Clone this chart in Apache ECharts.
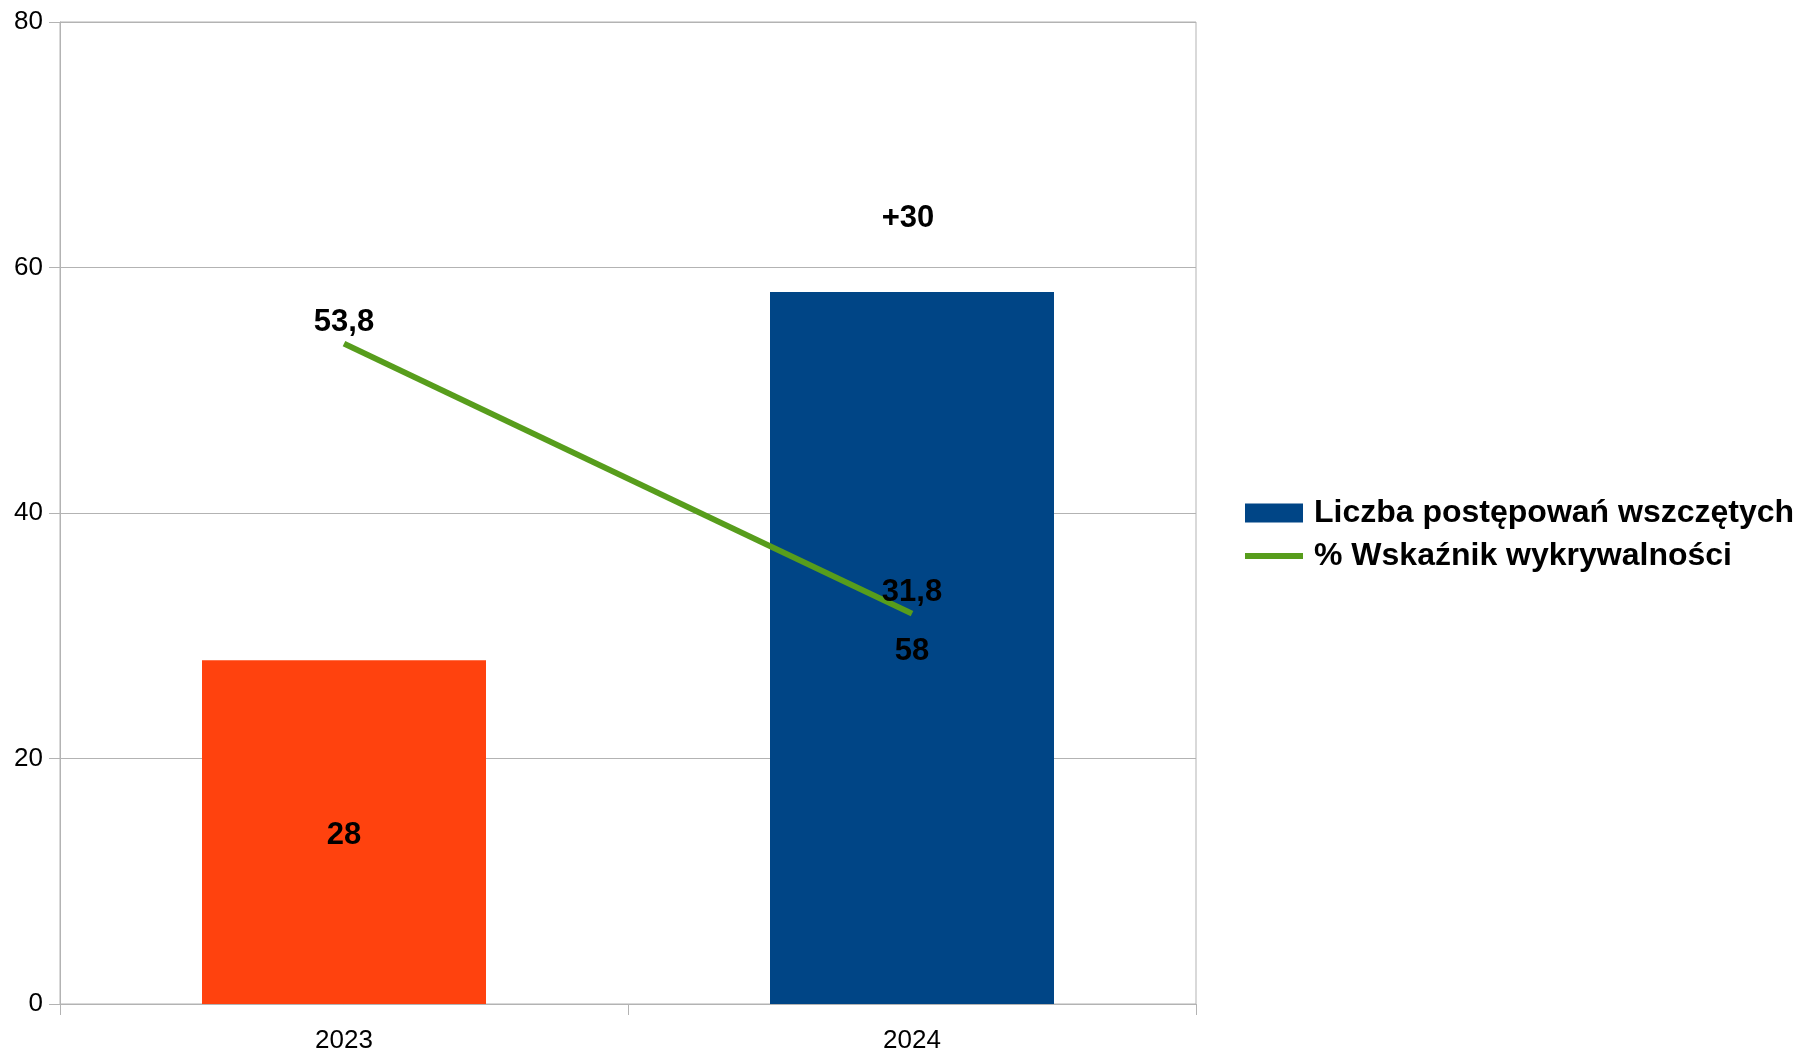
<!DOCTYPE html>
<html>
<head>
<meta charset="utf-8">
<script src="https://cdn.jsdelivr.net/npm/echarts@6/dist/echarts.min.js"></script>
<style>
html,body{margin:0;padding:0;background:#fff;}
#chart{width:1807px;height:1051px;}
</style>
</head>
<body>
<div id="chart"></div>
<script>
const categories = ['2023', '2024'];
const casesName = 'Liczba postępowań wszczętych';
const rateName = '% Wskaźnik wykrywalności';
const cases = [28, 58];
const detectionRate = [53.8, 31.8];
const barColors = ['#FF420E', '#004586'];
const annotation = { category: '2024', value: 64.0, text: '+30' };
const yMin = 0, yMax = 80, yStep = 20;

const FONT = '"Liberation Sans", Arial, sans-serif';
const chart = echarts.init(document.getElementById('chart'), null, { renderer: 'canvas' });
const fmtComma = p => String(p.value).replace('.', ',');

chart.setOption({
  animation: false,
  backgroundColor: '#ffffff',
  textStyle: { fontFamily: FONT },
  grid: {
    left: 60, right: 611, top: 22, bottom: 47,
    containLabel: false, outerBoundsMode: 'none',
    show: true, borderColor: '#b3b3b3', borderWidth: 1, backgroundColor: 'transparent'
  },
  legend: {
    orient: 'vertical',
    left: 1237,
    top: 492,
    itemWidth: 58,
    itemHeight: 19,
    itemGap: 11,
    textStyle: { fontFamily: FONT, fontSize: 32, fontWeight: 'bold', color: '#000', padding: [0, 0, 0, 6] },
    data: [
      { name: casesName, icon: 'rect', itemStyle: { color: barColors[1] } },
      { name: rateName, itemStyle: { color: 'transparent', borderWidth: 0, opacity: 0 },
        lineStyle: { width: 6, color: '#579D1C', opacity: 1 } }
    ]
  },
  xAxis: {
    type: 'category',
    data: categories,
    boundaryGap: true,
    axisLine: { show: true, lineStyle: { color: '#b3b3b3', width: 1 } },
    axisTick: { show: true, length: 11, lineStyle: { color: '#b3b3b3' } },
    axisLabel: { fontFamily: FONT, fontSize: 26, color: '#000', margin: 24 }
  },
  yAxis: {
    type: 'value',
    min: yMin, max: yMax, interval: yStep,
    axisLine: { show: true, lineStyle: { color: '#b3b3b3', width: 1 } },
    axisTick: { show: true, length: 11, lineStyle: { color: '#b3b3b3' } },
    splitLine: { show: true, lineStyle: { color: '#b3b3b3', width: 1 } },
    axisLabel: { fontFamily: FONT, fontSize: 26, color: '#000', margin: 17 }
  },
  series: [
    {
      name: casesName,
      type: 'bar',
      barWidth: '50%',
      itemStyle: { color: barColors[1] },
      data: cases.map((v, i) => ({ value: v, itemStyle: { color: barColors[i] } })),
      label: {
        show: true, position: 'inside', formatter: fmtComma, offset: [0, 3],
        fontFamily: FONT, fontSize: 31, fontWeight: 'bold', color: '#000'
      },
      markPoint: {
        symbol: 'rect', symbolSize: 1,
        itemStyle: { color: 'transparent' },
        label: {
          show: true, position: 'inside', formatter: annotation.text, offset: [-4, 0],
          fontFamily: FONT, fontSize: 31, fontWeight: 'bold', color: '#000'
        },
        data: [{ coord: [annotation.category, annotation.value] }]
      },
      z: 2
    },
    {
      name: rateName,
      type: 'line',
      data: detectionRate,
      symbol: 'circle',
      symbolSize: 0.1,
      showSymbol: true,
      lineStyle: { color: '#579D1C', width: 6 },
      itemStyle: { color: '#579D1C' },
      label: {
        show: true, position: 'top', distance: 6, formatter: fmtComma,
        fontFamily: FONT, fontSize: 31, fontWeight: 'bold', color: '#000'
      },
      z: 3
    }
  ]
});
</script>
</body>
</html>
